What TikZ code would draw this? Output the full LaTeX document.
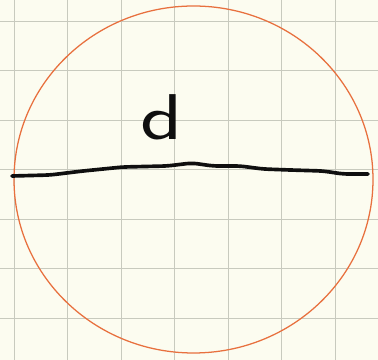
\documentclass[tikz,border=0pt]{standalone}
\usepackage{xcolor}
\definecolor{paper}{RGB}{252,252,240}
\definecolor{gridgray}{RGB}{200,202,190}
\definecolor{penorange}{RGB}{232,112,62}
\definecolor{inkblack}{RGB}{15,15,15}

\begin{document}
\begin{tikzpicture}[
  x=0.025cm, y=-0.025cm,
  gridline/.style={draw=gridgray, line width=0.6pt},
  rim/.style={draw=penorange, line width=0.9pt},
  ink/.style={draw=inkblack, line width=2.6pt, line cap=round, line join=round, rounded corners=4pt},
  lbl/.style={font=\fontsize{46}{46}\selectfont\sffamily, text=inkblack, inner sep=0pt}
]
  \fill[paper] (0,0) rectangle (378,360);
  \useasboundingbox (0,0) rectangle (378,360);

  \foreach \gx in {14,67.5,121,174.5,228,281.5,335}
    \draw[gridline] (\gx,0) -- (\gx,360);
  \foreach \gy in {21,70.5,120,169.5,219,268.5,318}
    \draw[gridline] (0,\gy) -- (378,\gy);

  \draw[rim] (193.5,179.5) ellipse [x radius=179.5, y radius=173.5];

  \coordinate (dl) at (12,176);
  \coordinate (dr) at (368,174);
  \draw[ink] (dl) -- (50,175) -- (83,171) -- (123,167) -- (167,166) -- (192,163)
    -- (213,166) -- (240,166) -- (263,169) -- (290,170) -- (323,171)
    -- (343,174) -- (dr);

  \node[lbl] (dlabel) at (162,117) {\scalebox{1.35}[1]{d}};
\end{tikzpicture}
\end{document}
